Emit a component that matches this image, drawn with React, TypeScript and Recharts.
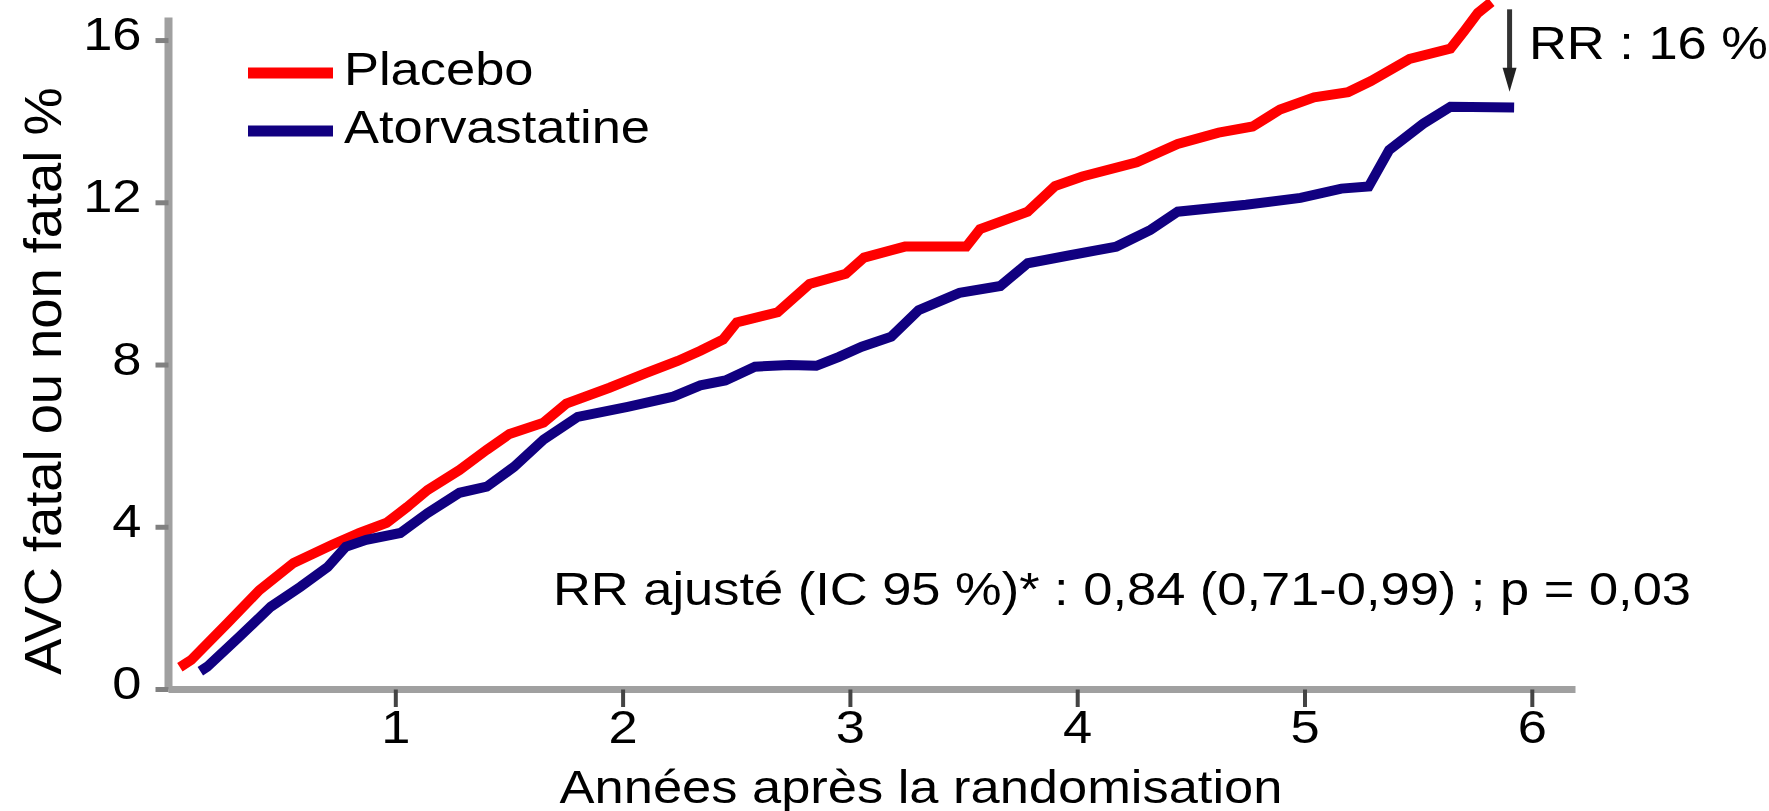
import { LineChart, Line, XAxis, YAxis, ReferenceLine, Legend, Customized } from "recharts";

// years after randomisation / cumulative stroke %
const placeboYears = [
  0.05, 0.1, 0.26, 0.4, 0.55, 0.72, 0.84, 0.96, 1.05, 1.14, 1.28, 1.4, 1.5, 1.65, 1.75, 1.94,
  2.1, 2.24, 2.34, 2.44, 2.5, 2.68, 2.82, 2.98, 3.06, 3.24, 3.51, 3.57, 3.78, 3.9, 4.02, 4.26,
  4.44, 4.62, 4.77, 4.89, 5.04, 5.19, 5.29, 5.46, 5.64, 5.7, 5.76, 5.82,
];
const placeboPct = [
  0.55, 0.73, 1.64, 2.45, 3.12, 3.57, 3.86, 4.11, 4.5, 4.92, 5.41, 5.91, 6.3, 6.58, 7.05, 7.44,
  7.8, 8.1, 8.35, 8.63, 9.05, 9.3, 10.0, 10.25, 10.65, 10.92, 10.92, 11.35, 11.78, 12.41, 12.65, 13.0,
  13.45, 13.73, 13.88, 14.3, 14.6, 14.73, 15.0, 15.55, 15.8, 16.23, 16.68, 16.95,
];

const atorvaYears = [
  0.14, 0.17, 0.31, 0.45, 0.58, 0.7, 0.78, 0.87, 1.02, 1.14, 1.28, 1.4, 1.52, 1.65, 1.8, 2.02,
  2.22, 2.34, 2.45, 2.58, 2.73, 2.85, 2.95, 3.05, 3.18, 3.3, 3.48, 3.66, 3.78, 3.96, 4.17, 4.32,
  4.44, 4.74, 4.98, 5.16, 5.28, 5.37, 5.52, 5.64, 5.92,
];
const atorvaPct = [
  0.45, 0.56, 1.29, 2.04, 2.53, 3.02, 3.52, 3.69, 3.86, 4.35, 4.85, 5.0, 5.49, 6.16, 6.72, 6.97,
  7.22, 7.5, 7.62, 7.96, 8.0, 7.98, 8.2, 8.45, 8.7, 9.35, 9.78, 9.95, 10.51, 10.7, 10.92, 11.33,
  11.78, 11.95, 12.12, 12.35, 12.4, 13.3, 13.95, 14.37, 14.35,
];

const seriesNames = ["Placebo", "Atorvastatine"];
const xTicks = [1, 2, 3, 4, 5, 6];
const yTicks = [0, 4, 8, 12, 16];

const placebo = placeboYears.map((x, i) => ({ x, y: placeboPct[i] }));
const atorva = atorvaYears.map((x, i) => ({ x, y: atorvaPct[i] }));

const FONT = '"Liberation Sans", Arial, Helvetica, sans-serif';
const STRETCH = 1.14;
const RED = "#ff0000";
const NAVY = "#110080";

function StretchText({ x, y, anchor = "start", size = 46, children }: any) {
  return (
    <text
      x={0}
      y={0}
      transform={`translate(${x},${y}) scale(${STRETCH},1)`}
      textAnchor={anchor}
      fontSize={size}
      fontFamily={FONT}
      fill="#000"
    >
      {children}
    </text>
  );
}

const YTick = ({ x, y, payload }: any) => (
  <StretchText x={x} y={y + 9.5} anchor="end">
    {payload.value}
  </StretchText>
);

const XTick = ({ x, y, payload }: any) => (
  <StretchText x={x} y={y + 36} anchor="middle">
    {payload.value}
  </StretchText>
);

const Arrow = ({ x1, y1, x2, y2 }: any) => (
  <g>
    <line x1={x1} y1={y1} x2={x2} y2={y2 - 10} stroke="#333" strokeWidth={5} />
    <polygon points={`${x2 - 7},${y2 - 24} ${x2 + 7},${y2 - 24} ${x2},${y2}`} fill="#222" />
  </g>
);

const LegendBox = ({ payload }: any) => {
  const items = [...(payload || [])].sort(
    (a: any, b: any) => seriesNames.indexOf(a.value) - seriesNames.indexOf(b.value)
  );
  return (
    <svg width={700} height={170}>
      {items.map((item: any, i: number) => (
        <g key={i}>
          <line x1={248} x2={333} y1={73 + i * 58} y2={73 + i * 58} stroke={item.color} strokeWidth={11} />
          <StretchText x={344} y={85 + i * 58}>
            {item.value}
          </StretchText>
        </g>
      ))}
    </svg>
  );
};

const Annotations = () => (
  <g>
    <StretchText x={1529} y={59}>RR : 16 %</StretchText>
    <StretchText x={553} y={605}>RR ajusté (IC 95 %)* : 0,84 (0,71-0,99) ; p = 0,03</StretchText>
    <StretchText x={921} y={803} anchor="middle">Années après la randomisation</StretchText>
    <text
      transform="translate(61,381) rotate(-90) scale(1.18,1.14)"
      textAnchor="middle"
      fontSize={46}
      fontFamily={FONT}
      fill="#000"
    >
      AVC fatal ou non fatal %
    </text>
  </g>
);

export default function App() {
  return (
    <div style={{ position: "absolute", left: 0, top: 0, width: 1769, height: 811, background: "#fff" }}>
      <LineChart width={1769} height={811} margin={{ top: 0, right: 193.5, bottom: 0, left: 0 }}>
        <XAxis
          type="number"
          dataKey="x"
          domain={[0, 6.19]}
          ticks={xTicks}
          height={121.5}
          tickSize={17.5}
          tickMargin={0}
          axisLine={{ stroke: "#a0a0a0", strokeWidth: 7 }}
          tickLine={{ stroke: "#444", strokeWidth: 4 }}
          tick={<XTick />}
          interval={0}
        />
        <YAxis
          type="number"
          domain={[0, 17]}
          ticks={yTicks}
          width={168.5}
          tickSize={13}
          tickMargin={14}
          axisLine={false}
          tickLine={{ stroke: "#808080", strokeWidth: 5 }}
          tick={<YTick />}
          interval={0}
        />
        <ReferenceLine
          segment={[
            { x: 0, y: 0 },
            { x: 0, y: 16.57 },
          ]}
          stroke="#a0a0a0"
          strokeWidth={8}
        />
        <Line
          data={placebo}
          dataKey="y"
          name="Placebo"
          stroke={RED}
          strokeWidth={10}
          dot={false}
          activeDot={false}
          isAnimationActive={false}
        />
        <Line
          data={atorva}
          dataKey="y"
          name="Atorvastatine"
          stroke={NAVY}
          strokeWidth={10}
          dot={false}
          activeDot={false}
          isAnimationActive={false}
        />
        <ReferenceLine
          segment={[
            { x: 5.9, y: 16.77 },
            { x: 5.9, y: 14.74 },
          ]}
          shape={<Arrow />}
        />
        <Legend
          layout="vertical"
          align="center"
          verticalAlign="middle"
          content={<LegendBox />}
          wrapperStyle={{ left: 0, top: 0, width: 700, height: 170 }}
        />
        <Customized component={<Annotations />} />
      </LineChart>
    </div>
  );
}
